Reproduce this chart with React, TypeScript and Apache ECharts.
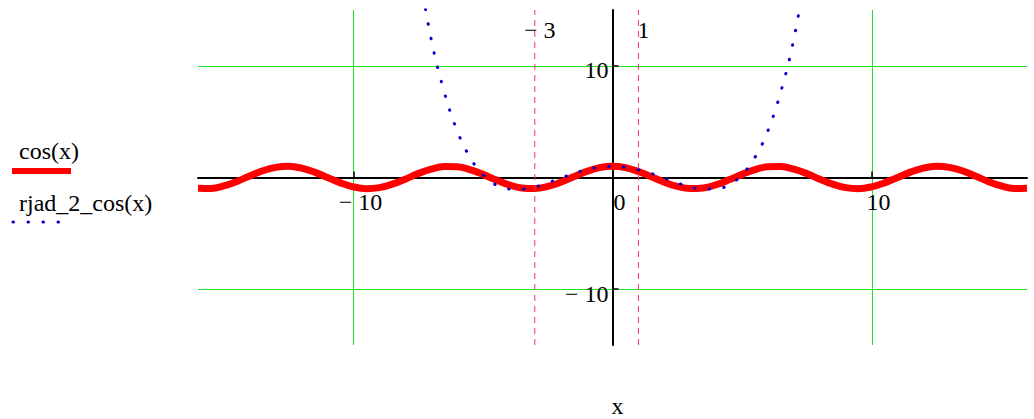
import React, { useEffect, useRef } from "react";
import * as echarts from "echarts";

// ---- data ----
const cosX = [
  -16, -15.5, -15, -14.5, -14, -13.5, -13, -12.5, -12, -11.5, -11, -10.5, -10, -9.5, -9, -8.5, -8,
  -7.5, -7, -6.5, -6, -5.5, -5, -4.5, -4, -3.5, -3, -2.5, -2, -1.5, -1, -0.5, 0,
  0.5, 1, 1.5, 2, 2.5, 3, 3.5, 4, 4.5, 5, 5.5, 6, 6.5, 7, 7.5, 8,
  8.5, 9, 9.5, 10, 10.5, 11, 11.5, 12, 12.5, 13, 13.5, 14, 14.5, 15, 15.5, 16,
];
const cosY = [
  -0.96, -0.98, -0.76, -0.35, 0.14, 0.6, 0.91, 1.0, 0.84, 0.48, 0.0, -0.48, -0.84, -1.0, -0.91, -0.6, -0.15,
  0.35, 0.75, 0.98, 0.96, 0.71, 0.28, -0.21, -0.65, -0.94, -0.99, -0.8, -0.42, 0.07, 0.54, 0.88, 1.0,
  0.88, 0.54, 0.07, -0.42, -0.8, -0.99, -0.94, -0.65, -0.21, 0.28, 0.71, 0.96, 0.98, 0.75, 0.35, -0.15,
  -0.6, -0.91, -1.0, -0.84, -0.48, 0.0, 0.48, 0.84, 1.0, 0.91, 0.6, 0.14, -0.35, -0.76, -0.98, -0.96,
];
const seriesX = [
  -7.5, -7, -6.5, -6, -5.5, -5, -4.5, -4, -3.5, -3, -2.5, -2, -1.5, -1, -0.5, 0,
  0.5, 1, 1.5, 2, 2.5, 3, 3.5, 4, 4.5, 5, 5.5, 6, 6.5, 7, 7.5,
];
const seriesY = [
  19.0, 12.4, 7.7, 4.2, 1.8, 0.25, -0.66, -1.02, -1.04, -0.86, -0.48, -0.06, 0.36, 0.7, 0.92, 1.0,
  0.92, 0.7, 0.36, -0.06, -0.48, -0.86, -1.04, -1.02, -0.66, 0.25, 1.8, 4.2, 7.7, 12.4, 19.0,
];
const markerX = [-3, 1];
const markerLabels = ["\u2212 3", "1"];
const gridLinesX = [-10, 10];
const gridLinesY = [-10, 10];
const xRange = [-16, 16];
const yRange = [-15, 15];
const xTickValues = [-10, 10];
const xLabelValues = [-10, 0, 10];
const yTickValues = [-10, 10];
const yLabelValues = [-10, 10];
const legendNames = ["cos(x)", "rjad_2_cos(x)"];
const axisName = "x";

const FONT = '"Liberation Serif", "Times New Roman", serif';
const GREEN = "#22e022";
const fmt = (v: number) => (v < 0 ? "\u2212 " + Math.abs(v) : String(v));
const crisp = (v: number) => Math.round(v) + 0.5;

export default function App() {
  const ref = useRef<HTMLDivElement>(null);
  useEffect(() => {
    if (!ref.current) return;
    const chart = echarts.init(ref.current, null, { renderer: "svg" });
    const option: any = {
      animation: false,
      backgroundColor: "#ffffff",
      grid: { left: 198, right: 7, top: 10, bottom: 74, containLabel: false },
      xAxis: {
        type: "value",
        min: xRange[0],
        max: xRange[1],
        axisLine: { show: true, onZero: true, lineStyle: { color: "#000", width: 2 } },
        axisTick: { show: true, inside: true, length: 6, customValues: xTickValues, lineStyle: { color: "#000", width: 1.5 } },
        axisLabel: { show: false },
        splitLine: { show: false },
      },
      yAxis: {
        type: "value",
        min: yRange[0],
        max: yRange[1],
        axisLine: { show: true, onZero: true, lineStyle: { color: "#000", width: 2 } },
        axisTick: { show: true, inside: true, length: 6, customValues: yTickValues, lineStyle: { color: "#000", width: 1.5 } },
        axisLabel: { show: false },
        splitLine: { show: false },
      },
      series: [
        {
          type: "line",
          name: legendNames[0],
          data: cosX.map((x, i) => [x, cosY[i]]),
          smooth: 0.4,
          showSymbol: false,
          silent: true,
          z: 3,
          lineStyle: { color: "#ff0000", width: 7 },
        },
        {
          type: "line",
          name: legendNames[1],
          data: seriesX.map((x, i) => [x, seriesY[i]]),
          smooth: 0.4,
          showSymbol: false,
          silent: true,
          clip: true,
          z: 4,
          lineStyle: { color: "#0000cc", width: 3, type: [0.5, 14.3], cap: "round" },
        },
        ...markerX.map((v) => ({
          type: "line",
          data: [[v, yRange[0]], [v, yRange[1]]],
          silent: true,
          showSymbol: false,
          z: 5,
          lineStyle: { color: "#ff3355", width: 1, type: [6, 5] },
        })),
      ],
    };
    chart.setOption(option);

    const px = (v: number[]) => chart.convertToPixel({ gridIndex: 0 }, v) as number[];
    const origin = px([0, 0]);
    const txt = (x: number, y: number, text: string, align: string, vAlign = "middle") => ({
      type: "text",
      x,
      y,
      z: 10,
      style: { text, fill: "#000", fontFamily: FONT, fontSize: 24, align, verticalAlign: vAlign },
    });
    const vline = (v: number) => {
      const a = px([v, yRange[0]]);
      const b = px([v, yRange[1]]);
      const x = crisp(a[0]);
      return { type: "line", z: -1, silent: true, shape: { x1: x, y1: a[1], x2: x, y2: b[1] }, style: { stroke: GREEN, lineWidth: 1 } };
    };
    const hline = (v: number) => {
      const a = px([xRange[0], v]);
      const b = px([xRange[1], v]);
      const y = crisp(a[1]);
      return { type: "line", z: -1, silent: true, shape: { x1: a[0], y1: y, x2: b[0], y2: y }, style: { stroke: GREEN, lineWidth: 1 } };
    };

    const gridGraphics = [...gridLinesX.map(vline), ...gridLinesY.map(hline)];
    const markerTexts = markerX.map((v, i) => txt(px([v, 0])[0] + 5, 30, markerLabels[i], "center"));
    const xLabels = xLabelValues.map((v) => {
      const p = px([v, 0]);
      return txt(p[0] + 7, p[1] + 24, fmt(v), "center");
    });
    const yLabels = yLabelValues.map((v) => {
      const p = px([0, v]);
      return txt(p[0] - 4, p[1] + 4.5, fmt(v), "right");
    });

    chart.setOption({
      graphic: [
        ...gridGraphics,
        txt(19, 151, legendNames[0], "left"),
        {
          type: "rect",
          shape: { x: 12, y: 168, width: 59, height: 6 },
          style: { fill: "#ff0000" },
        },
        txt(19, 203, legendNames[1], "left"),
        {
          type: "line",
          shape: { x1: 13, y1: 222, x2: 60, y2: 222 },
          style: { stroke: "#0000cc", lineWidth: 3, lineDash: [0.5, 14.5], lineCap: "round" },
        },
        txt(origin[0] + 5, 418, axisName, "center", "bottom"),
        ...markerTexts,
        ...xLabels,
        ...yLabels,
      ],
    });

    return () => chart.dispose();
  }, []);
  return (
    <div
      ref={ref}
      style={{ position: "fixed", left: 0, top: 0, width: 1034, height: 419, background: "#fff" }}
    />
  );
}
